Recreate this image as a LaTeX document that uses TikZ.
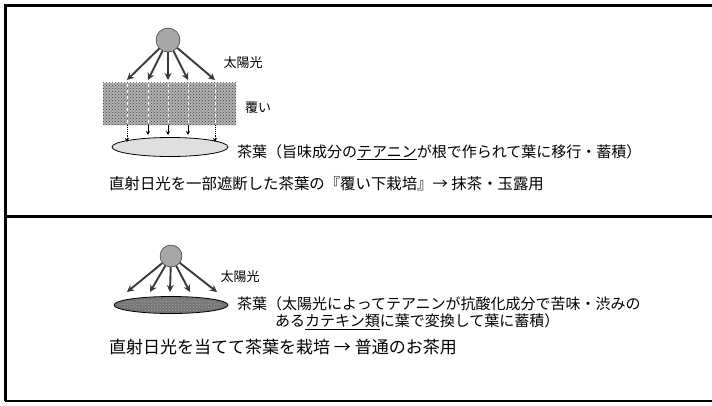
\documentclass[tikz,border=0pt]{standalone}
\usepackage{fontspec}
\setmainfont{Noto Sans CJK JP}
\usetikzlibrary{arrows.meta,patterns,shapes.geometric}
\begin{document}
\begin{tikzpicture}[x=1pt,y=-1pt,
  ray/.style={draw=gray!45!black, line width=1.9pt, -{Stealth[length=7pt,width=7pt]}},
  sunball/.style={circle, draw=gray!20!black, fill=gray!70, inner sep=0pt},
  lbl/.style={inner sep=0pt, font=\fontsize{13}{15}\selectfont},
  note/.style={anchor=west, inner sep=0pt, font=\fontsize{15}{17}\selectfont},
  mainline/.style={anchor=west, inner sep=0pt},
  dotline/.style={densely dotted, line width=0.9pt},
  smallarr/.style={line width=0.9pt, -{Stealth[length=4pt,width=4pt]}}
]
\useasboundingbox (0,0) rectangle (712,405);
% frame
\draw[line width=3pt] (712,5) -- (5,5) -- (5,401);
\draw[line width=3pt] (5,216) -- (712,216);
\draw[line width=1.2pt] (5,401) -- (712,401);

% ---------- top panel ----------
\node[sunball, minimum size=24pt] (sun1) at (168,40) {};
\node[rectangle, fill=gray!60, minimum width=133pt, minimum height=42pt, inner sep=0pt] (cover) at (169.5,104) {};
\fill[pattern=crosshatch dots, pattern color=black!75] (cover.south west) rectangle (cover.north east);
\node[ellipse, draw=black, line width=0.8pt, fill=gray!25, minimum width=116pt, minimum height=19pt, inner sep=0pt] (leaf1) at (170,147) {};

\foreach \i/\x in {1/127,2/148,3/168,4/188,5/215}{
  \coordinate (t\i) at (\x,80);
  \draw[ray] (sun1) -- (t\i);
  \draw[white, dashed, line width=0.9pt] (\x,84) -- (\x,125);
}
\foreach \x in {148,168,188}{
  \draw[smallarr] (\x,125) -- (\x,135);
}
\coordinate (o1) at (127,142);
\coordinate (o2) at (215,142);
\draw[dotline, -{Stealth[length=4pt,width=4pt]}] (127,125) -- (o1);
\draw[dotline, -{Stealth[length=4pt,width=4pt]}] (215,125) -- (o2);

\node[lbl] (sunlbl1) at (243,63) {太陽光};
\node[lbl] (coverlbl) at (258,108) {覆い};
\node[note] (note1) at (237,152) {茶葉（旨味成分の\underline{テアニン}が根で作られて葉に移行・蓄積）};
\node[mainline, font=\fontsize{15.4}{18}\selectfont] (main1) at (109,184) {直射日光を一部遮断した茶葉の『覆い下栽培』→ 抹茶・玉露用};

% ---------- bottom panel ----------
\node[sunball, minimum size=22pt] (sun2) at (171,256) {};
\node[ellipse, draw=black, line width=0.8pt, fill=gray!92!black, minimum width=114pt, minimum height=17pt, inner sep=0pt] (leaf2) at (171,305) {};
\fill[pattern=crosshatch dots, pattern color=gray!70] (leaf2.center) ellipse [x radius=52pt, y radius=6.5pt];
\foreach \i/\x in {1/127,2/150,3/170,4/190,5/217}{
  \coordinate (b\i) at (\x,292);
  \draw[ray] (sun2) -- (b\i);
}
\node[lbl] (sunlbl2) at (240,277) {太陽光};
\node[note] (note2a) at (237,304) {茶葉（太陽光によってテアニンが抗酸化成分で苦味・渋みの};
\node[note] (note2b) at (275,322) {ある\underline{カテキン類}に葉で変換して葉に蓄積）};
\node[mainline, font=\fontsize{17}{19}\selectfont] (main2) at (109,347) {直射日光を当てて茶葉を栽培 → 普通のお茶用};
\end{tikzpicture}
\end{document}
